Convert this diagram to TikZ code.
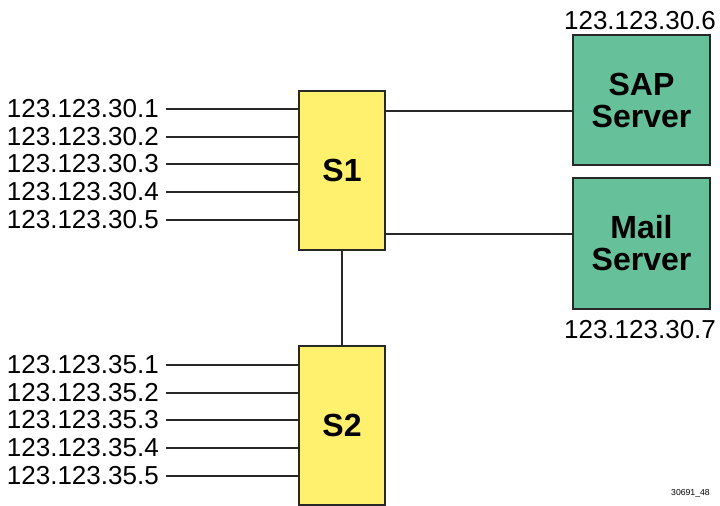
\documentclass[tikz,border=0pt]{standalone}
\usepackage{fontspec}
\setmainfont{Liberation Sans}
\definecolor{swyellow}{RGB}{255,240,110}
\definecolor{srvgreen}{RGB}{102,192,154}
\definecolor{edge}{RGB}{40,40,40}
\tikzset{
  switch/.style={draw=edge,line width=1pt,fill=swyellow,minimum width=64.5pt,
    minimum height=119.25pt,inner sep=0pt,font=\fontsize{24}{24}\selectfont\bfseries},
  server/.style={draw=edge,line width=1pt,fill=srvgreen,minimum width=102.75pt,
    inner sep=0pt,align=center,font=\fontsize{24}{24}\selectfont\bfseries},
  ip/.style={inner sep=0pt,font=\fontsize{19.5}{19.5}\selectfont},
  link/.style={line width=1pt,draw=edge}
}
\begin{document}
\begin{tikzpicture}[x=0.75pt,y=-0.75pt]
\useasboundingbox (0,0) rectangle (720,506);
% Switche a servery
\node[switch] (s1) at (342,170.5) {S1};
\node[switch] (s2) at (342,425.5) {S2};
\node[server,minimum height=97.5pt] (sap) at (641.5,100) {SAP\\Server};
\node[server,minimum height=98.25pt] (mail) at (641.5,243.5) {Mail\\Server};
\node[ip] (ip6) at (640,20.5) {123.123.30.6};
\node[ip] (ip7) at (640,330) {123.123.30.7};
% Propojeni
\draw[link] (s1.south) -- (s2.north);
\draw[link] ([yshift=-8.25pt]sap.west) -- ([yshift=-8.25pt]sap.west -| s1.east);
\draw[link] ([yshift=7.1pt]mail.west) -- ([yshift=7.1pt]mail.west -| s1.east);
% Adresy vlevo
\foreach \i/\y in {1/109,2/137,3/164,4/192,5/220} {
    \node[ip,anchor=east] (a\i) at (159,\y) {123.123.30.\i};
    \draw[link] ([xshift=5.5pt]a\i.east) -- (a\i.east -| s1.west);
}
\foreach \i/\y in {1/365,2/393,3/420,4/448,5/476} {
    \node[ip,anchor=east] (b\i) at (159,\y) {123.123.35.\i};
    \draw[link] ([xshift=5.5pt]b\i.east) -- (b\i.east -| s2.west);
}
\node[anchor=east,inner sep=0pt,font=\fontsize{6.5}{6.5}\selectfont] (code) at (710,493) {30691\_48};
\end{tikzpicture}
\end{document}
